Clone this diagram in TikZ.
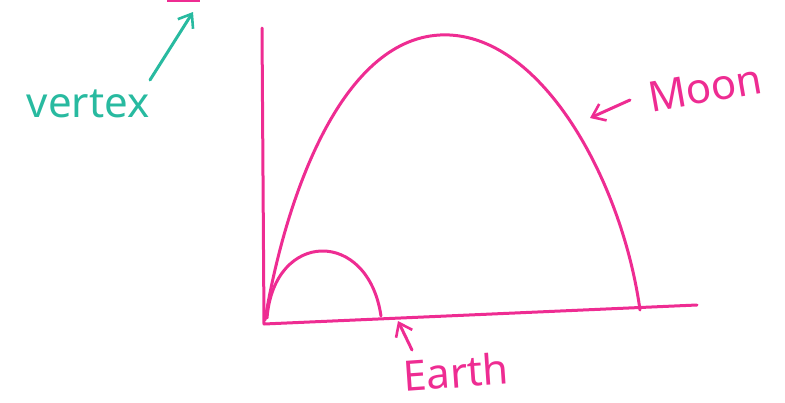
\documentclass[tikz,border=0pt]{standalone}
\usepackage{fontspec}
\setmainfont{Noto Sans}
\usetikzlibrary{arrows.meta}
\definecolor{pen}{RGB}{238,44,146}
\definecolor{teal2}{RGB}{40,186,160}
\tikzset{
  ink/.style={draw=pen, line width=3pt, line cap=round, line join=round},
  tink/.style={draw=teal2, line width=3pt, line cap=round, line join=round},
  barb/.style={-{Straight Barb[length=12pt,width=18pt,line width=2.6pt]}},
  lbl/.style={inner sep=0pt, font=\fontsize{42}{42}\selectfont\mdseries}
}
\begin{document}
\begin{tikzpicture}[x=1pt,y=-1pt]
\useasboundingbox (0,0) rectangle (785,402);
% axes
\coordinate (top) at (262,28);
\coordinate (origin) at (264,324);
\coordinate (xend) at (697,305);
\draw[ink] (top) -- (origin) -- (xend);
% big curve (Moon)
\coordinate (m0) at (265,320);
\coordinate (mpeak) at (440,35);
\coordinate (m1) at (640,310);
\draw[ink] (m0) .. controls (285,200) and (340,40) .. (mpeak)
                .. controls (540,30) and (622,180) .. (m1);
% small curve (Earth)
\coordinate (e0) at (267,318);
\coordinate (e1) at (381,316);
\draw[ink] (e0) .. controls (274,230) and (368,228) .. (e1);
% partial mark at top edge
\fill[pen] (167,-1) rectangle (200,1.5);
% labels
\node[lbl, text=teal2] (vertex) at (88,104) {vertex};
\node[lbl, text=pen, rotate=10] (moon) at (705,88) {Moon};
\node[lbl, text=pen, rotate=4] (earth) at (456,372) {Earth};
% arrows
\coordinate (vtip) at (193,12);
\coordinate (vtail) at (150,80);
\draw[tink, barb] (vtail) -- (vtip);
\coordinate (mtip) at (590,118);
\coordinate (mtail) at (630,100);
\draw[ink, barb] (mtail) -- (mtip);
\coordinate (etip) at (398,321);
\coordinate (etail) at (412,350);
\draw[ink, barb] (etail) -- (etip);
\end{tikzpicture}
\end{document}
